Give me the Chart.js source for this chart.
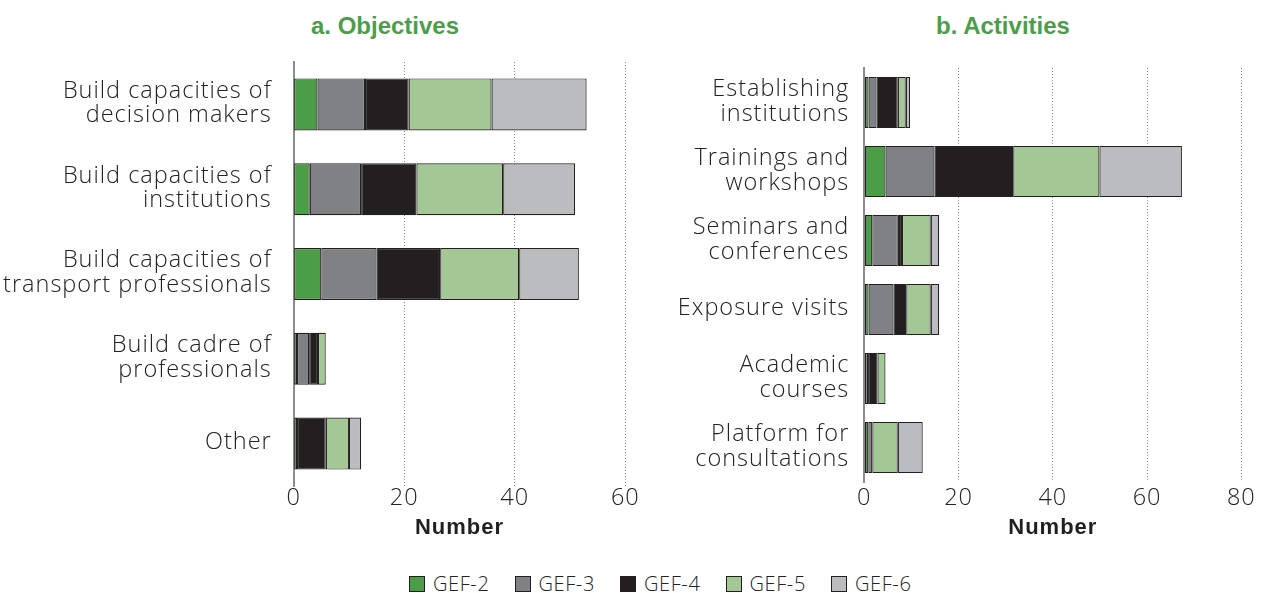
<!DOCTYPE html>
<html>
<head>
<meta charset="utf-8">
<script src="https://cdn.jsdelivr.net/npm/chart.js@4"></script>
<style>
    body { margin: 0; background: #fff; width: 1262px; height: 593px; position: relative; overflow: hidden; font-family: "Liberation Sans", Arial, sans-serif; }
    .panel-title { position: absolute; top: 12px; font-weight: bold; font-size: 24px; color: #4b9e47; transform: translateX(-50%); white-space: nowrap; }
    .box { position: absolute; top: 0; height: 550px; }
    #legend { position: absolute; top: 575px; left: 409px; display: flex; }
    #legend .item { display: flex; align-items: center; width: 105.5px; height: 18px; line-height: 18px; font-family: "Open Sans", sans-serif; font-weight: 300; font-size: 20px; letter-spacing: 0.6px; color: #222; }
    #legend .swatch { width: 14px; height: 14px; border: 1px solid #231f20; margin-right: 8px; }
</style>
</head>
<body>
<div class="panel-title" style="left:385px">a. Objectives</div>
<div class="panel-title" style="left:1003px">b. Activities</div>
<div class="box" style="left:0;width:650px"><canvas id="objChart"></canvas></div>
<div class="box" style="left:650px;width:612px"><canvas id="actChart"></canvas></div>
<div id="legend"></div>
<script>
const seriesNames = ['GEF-2', 'GEF-3', 'GEF-4', 'GEF-5', 'GEF-6'];
const seriesColors = ['#4b9e47', '#808184', '#231f20', '#a3c795', '#bbbcbf'];

// a. Objectives
const objCategories = [
    ['Build capacities of', 'decision makers'],
    ['Build capacities of', 'institutions'],
    ['Build capacities of', 'transport professionals'],
    ['Build cadre of', 'professionals'],
    'Other'
];
const objGef2 = [4.3, 2.9, 5.0, 0.6, 0.6];
const objGef3 = [8.6, 9.3, 10.0, 2.2, 0];
const objGef4 = [7.9, 10.0, 11.5, 1.6, 5.2];
const objGef5 = [15.0, 15.7, 14.3, 1.4, 4.2];
const objGef6 = [17.2, 13.0, 10.8, 0, 2.2];
const objTicks = [0, 20, 40, 60];

// b. Activities
const actCategories = [
    ['Establishing', 'institutions'],
    ['Trainings and', 'workshops'],
    ['Seminars and', 'conferences'],
    'Exposure visits',
    ['Academic', 'courses'],
    ['Platform for', 'consultations']
];
const actGef2 = [0.9, 4.5, 1.7, 0.9, 0, 0.85];
const actGef3 = [1.7, 10.4, 5.4, 5.3, 0.8, 0.85];
const actGef4 = [4.5, 16.7, 0.9, 2.7, 2.0, 0];
const actGef5 = [1.7, 18.3, 6.1, 5.2, 1.7, 5.4];
const actGef6 = [0.9, 17.5, 1.8, 1.8, 0, 5.3];
const actTicks = [0, 20, 40, 60, 80];

const labelFont = { family: '"Open Sans", sans-serif', weight: '300', size: 23.5, lineHeight: 1.05 };

// the original text is slightly tracked
const trackingPlugin = {
    id: 'tracking',
    beforeDraw: chart => { chart.ctx.letterSpacing = '1px'; }
};

function makeDatasets(seriesValues, barPct) {
    return seriesValues.map((values, i) => ({
        label: seriesNames[i],
        data: values,
        backgroundColor: seriesColors[i],
        borderColor: '#231f20',
        borderWidth: 1.2,
        borderSkipped: false,
        categoryPercentage: 1,
        barPercentage: barPct
    }));
}

function createChart(canvasId, categories, seriesValues, ticks, opts) {
    const ctx = document.getElementById(canvasId).getContext('2d');
    return new Chart(ctx, {
        type: 'bar',
        data: { labels: categories, datasets: makeDatasets(seriesValues, opts.barPct) },
        plugins: [trackingPlugin],
        options: {
            indexAxis: 'y',
            responsive: true,
            maintainAspectRatio: false,
            animation: false,
            layout: { padding: { top: opts.top, right: opts.right, left: 0, bottom: 0 } },
            plugins: { legend: { display: false }, tooltip: { enabled: false } },
            scales: {
                x: {
                    stacked: true,
                    min: 0,
                    max: ticks[ticks.length - 1],
                    afterBuildTicks: scale => { scale.ticks = ticks.map(v => ({ value: v })); },
                    afterFit: scale => { scale.height = 550 - opts.bottom; },
                    grid: {
                        drawTicks: false,
                        color: c => c.tick && c.tick.value === 0 ? 'rgba(0,0,0,0)' : '#8c8c8c',
                        lineWidth: 1
                    },
                    border: { display: false, dash: [1, 2] },
                    ticks: { font: labelFont, color: '#222', padding: opts.tickPad, maxRotation: 0 },
                    title: {
                        display: true,
                        text: 'Number',
                        color: '#231f20',
                        font: { family: '"Liberation Sans", Arial, sans-serif', size: 22, weight: 'bold' },
                        padding: { top: 0, bottom: 9 }
                    }
                },
                y: {
                    stacked: true,
                    afterFit: scale => { scale.width = opts.axisWidth; },
                    grid: { display: false, drawTicks: false },
                    border: { display: true, color: '#8c8c8c', width: 2 },
                    ticks: { font: labelFont, color: '#222', padding: opts.labelPad, autoSkip: false, labelOffset: -1 }
                }
            }
        }
    });
}

function buildLegend() {
    const legend = document.getElementById('legend');
    seriesNames.forEach((name, i) => {
        const item = document.createElement('div');
        item.className = 'item';
        const swatch = document.createElement('span');
        swatch.className = 'swatch';
        swatch.style.background = seriesColors[i];
        item.appendChild(swatch);
        item.appendChild(document.createTextNode(name));
        legend.appendChild(item);
    });
}

createChart('objChart', objCategories, [objGef2, objGef3, objGef4, objGef5, objGef6], objTicks,
    { top: 62, bottom: 486, right: 24.7, axisWidth: 293.7, labelPad: 22, tickPad: 0, barPct: 0.613 });
createChart('actChart', actCategories, [actGef2, actGef3, actGef4, actGef5, actGef6], actTicks,
    { top: 68, bottom: 482, right: 20.7, axisWidth: 214.3, labelPad: 15, tickPad: 4, barPct: 0.742 });
buildLegend();
</script>
</body>
</html>
